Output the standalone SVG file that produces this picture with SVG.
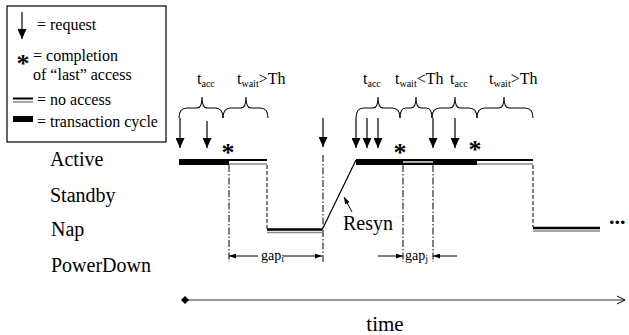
<svg xmlns="http://www.w3.org/2000/svg" width="629" height="335" viewBox="0 0 629 335">
<defs>
<style>
text{font-family:"Liberation Serif","Times New Roman",serif;fill:#000}
.leg{font-size:16px}
.lab{font-size:20px}
.t{font-size:16px}
.sub{font-size:10px}
.ast{font-size:26px;font-weight:bold;text-anchor:middle}
.gap{font-size:14px}
.req{stroke:#000;stroke-width:1.2;fill:none;marker-end:url(#ah)}
.sm{stroke:#000;stroke-width:1;fill:none;marker-end:url(#sh)}
.brace{stroke:#000;stroke-width:1.1;fill:none}
.bar{fill:#000}
.nab{stroke:#000;stroke-width:2}
.nag{stroke:#888;stroke-width:1.5}
.dd{stroke:#000;stroke-width:1;stroke-dasharray:7,2,1.5,2;fill:none}
.ds{stroke:#000;stroke-width:1;stroke-dasharray:4,2;fill:none}
</style>
<marker id="ah" markerUnits="userSpaceOnUse" markerWidth="10" markerHeight="9" refX="10" refY="4.5" orient="auto"><path d="M0,0 L10,4.5 L0,9 z" fill="#000"/></marker>
<marker id="sh" markerUnits="userSpaceOnUse" markerWidth="7" markerHeight="5" refX="7" refY="2.5" orient="auto"><path d="M0,0 L7,2.5 L0,5 z" fill="#000"/></marker>
</defs>

<g id="legend">
<rect x="7" y="6" width="159" height="136" fill="#fff" stroke="#000" stroke-width="1.2"/>
<line x1="22" y1="12" x2="22" y2="39" class="req"/>
<text x="37" y="30" class="leg">= request</text>
<text x="23" y="72" class="ast">*</text>
<text x="33" y="61" class="leg">= completion</text>
<text x="33" y="80" class="leg">of “last” access</text>
<line x1="13" y1="98.5" x2="33" y2="98.5" class="nab"/>
<line x1="13" y1="102" x2="33" y2="102" class="nag"/>
<text x="37" y="105" class="leg">= no access</text>
<rect x="13" y="116" width="20" height="6" class="bar"/>
<text x="37" y="127" class="leg">= transaction cycle</text>
</g>

<g id="state-labels">
<text x="50" y="166" class="lab">Active</text>
<text x="50" y="202" class="lab">Standby</text>
<text x="51" y="236" class="lab">Nap</text>
<text x="51" y="272" class="lab">PowerDown</text>
</g>

<g id="interval-labels">
<text x="197" y="84" class="t">t<tspan class="sub" dy="3">acc</tspan></text>
<text x="237" y="84" class="t">t<tspan class="sub" dy="3">wait</tspan><tspan dy="-3">&gt;Th</tspan></text>
<text x="363" y="84" class="t">t<tspan class="sub" dy="3">acc</tspan></text>
<text x="395" y="84" class="t">t<tspan class="sub" dy="3">wait</tspan><tspan dy="-3">&lt;Th</tspan></text>
<text x="450" y="84" class="t">t<tspan class="sub" dy="3">acc</tspan></text>
<text x="489" y="84" class="t">t<tspan class="sub" dy="3">wait</tspan><tspan dy="-3">&gt;Th</tspan></text>
</g>

<g id="braces">
<path class="brace" d="M179,118 Q179,108 187,108 L197,108 Q202,108 202,97 Q202,108 207,108 L215,108 Q223,108 223,118"/>
<path class="brace" d="M223,118 Q223,108 231,108 L241,108 Q246,108 246,97 Q246,108 251,108 L260,108 Q268,108 268,118"/>
<path class="brace" d="M356,118 Q356,108 364,108 L373,108 Q378,108 378,97 Q378,108 383,108 L392,108 Q400,108 400,118"/>
<path class="brace" d="M400,118 Q400,108 406,108 L411,108 Q416,108 416,97 Q416,108 421,108 L426,108 Q432,108 432,118"/>
<path class="brace" d="M432,118 Q432,108 440,108 L450,108 Q455,108 455,97 Q455,108 460,108 L469,108 Q477,108 477,118"/>
<path class="brace" d="M477,118 Q477,108 485,108 L499,108 Q504,108 504,97 Q504,108 509,108 L525,108 Q533,108 533,118"/>
</g>

<g id="requests">
<line x1="180" y1="118" x2="180" y2="148" class="req"/>
<line x1="207" y1="121" x2="207" y2="148" class="req"/>
<line x1="323" y1="118" x2="323" y2="147" class="req"/>
<line x1="356" y1="118" x2="356" y2="148" class="req"/>
<line x1="367" y1="118" x2="367" y2="148" class="req"/>
<line x1="378" y1="118" x2="378" y2="148" class="req"/>
<line x1="433" y1="118" x2="433" y2="148" class="req"/>
<line x1="455" y1="118" x2="455" y2="148" class="req"/>
</g>

<g id="completions">
<text x="228" y="161" class="ast">*</text>
<text x="400" y="161" class="ast">*</text>
<text x="475" y="158" class="ast">*</text>
</g>

<g id="timeline-states">
<rect x="179" y="159" width="50" height="6" class="bar"/>
<line x1="229" y1="160" x2="267" y2="160" class="nab"/>
<line x1="229" y1="164" x2="267" y2="164" class="nag"/>
<line x1="267" y1="229.5" x2="322" y2="229.5" stroke="#000" stroke-width="2.5"/>
<line x1="267" y1="232.5" x2="322" y2="232.5" class="nag"/>
<line x1="322" y1="230" x2="356" y2="160" stroke="#000" stroke-width="1.2"/>
<rect x="356" y="159" width="47" height="6" class="bar"/>
<rect x="403" y="160" width="30" height="4" fill="#aaa"/>
<line x1="403" y1="160" x2="433" y2="160" class="nab"/>
<line x1="403" y1="164" x2="433" y2="164" class="nab"/>
<rect x="433" y="159" width="44" height="6" class="bar"/>
<line x1="477" y1="160" x2="533" y2="160" class="nab"/>
<line x1="477" y1="164" x2="533" y2="164" class="nag"/>
<line x1="533" y1="228" x2="600" y2="228" stroke="#000" stroke-width="2.5"/>
<line x1="533" y1="231" x2="600" y2="231" class="nag"/>
<text x="609" y="224" style="font-size:22px;font-weight:bold">...</text>
</g>

<g id="connectors">
<line x1="229" y1="165" x2="229" y2="262" class="dd"/>
<line x1="267" y1="165" x2="267" y2="229" class="ds"/>
<line x1="323" y1="155" x2="323" y2="262" class="dd"/>
<line x1="403" y1="165" x2="403" y2="262" class="dd"/>
<line x1="433" y1="165" x2="433" y2="262" class="dd"/>
<line x1="533" y1="165" x2="533" y2="227" class="ds"/>
<line x1="352" y1="212" x2="344" y2="197" class="sm"/>
<line x1="258" y1="256" x2="229" y2="256" class="sm"/>
<line x1="283" y1="256" x2="322" y2="256" class="sm"/>
<line x1="378" y1="256" x2="403" y2="256" class="sm"/>
<line x1="457" y1="256" x2="433" y2="256" class="sm"/>
<line x1="185" y1="300" x2="625" y2="300" stroke="#333" stroke-width="1"/>
<polygon points="185,296 189,300 185,304 181,300" fill="#000"/>
<polyline points="617,296 625,300 617,304" fill="none" stroke="#000" stroke-width="1"/>
</g>

<g id="annotations">
<text x="343" y="230" class="lab">Resyn</text>
<text x="261" y="260" class="gap">gap<tspan style="font-size:10px" dy="2">i</tspan></text>
<text x="405" y="260" class="gap">gap<tspan style="font-size:10px" dy="2">j</tspan></text>
<text x="385" y="331" class="lab" text-anchor="middle" style="font-size:21px">time</text>
</g>
</svg>
